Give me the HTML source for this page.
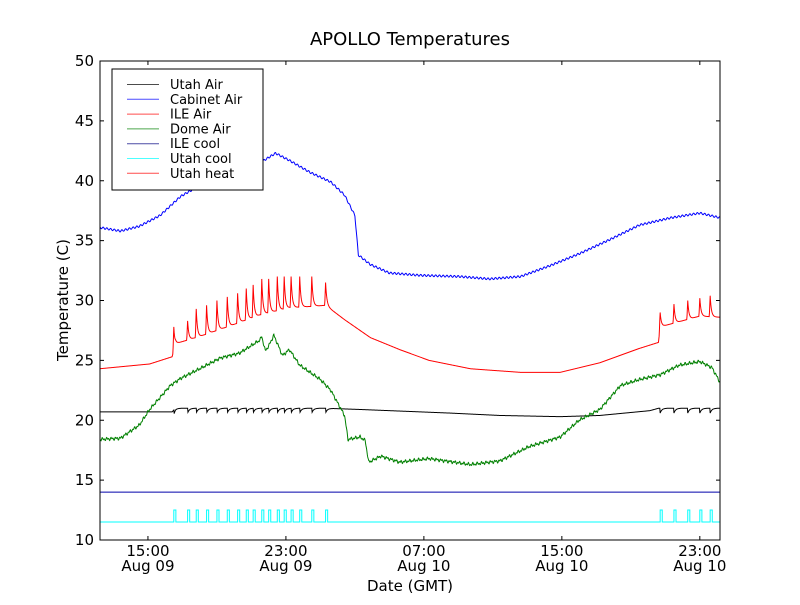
<!DOCTYPE html>
<html><head><meta charset="utf-8"><style>
body{margin:0;background:#fff;font-family:"Liberation Sans","DejaVu Sans",sans-serif}
svg text{font-family:"DejaVu Sans","Liberation Sans",sans-serif}
</style></head><body>
<svg id="chart" width="800" height="600" xmlns="http://www.w3.org/2000/svg">
<rect width="800" height="600" fill="#fff"/>
<text x="410" y="45" font-size="18" text-anchor="middle">APOLLO Temperatures</text>
<g id="plot"></g>
<g id="axes"></g>
<text x="410" y="591" font-size="15" text-anchor="middle">Date (GMT)</text>
<text transform="translate(68,300) rotate(-90)" font-size="15" text-anchor="middle">Temperature (C)</text>
<g id="legend"></g>
</svg>
<script>
// hours since Aug 09 00:00 GMT
const xTickHours=[15,23,31,39,47];
const xTickTimes=["15:00","23:00","07:00","15:00","23:00"];
const xTickDates=["Aug 09","Aug 09","Aug 10","Aug 10","Aug 10"];
const yTicks=[10,15,20,25,30,35,40,45,50];
const cabT=[12.2,13.4,14.5,15.7,16.9,18.0,19.2,20.3,21.5,22.4,23.2,24.4,25.6,26.4,27.0,27.2,27.9,29.0,30.8,33.1,34.8,36.6,38.3,40.0,41.8,43.5,45.3,47.0,48.2];
const cabV=[36.1,35.8,36.2,37.1,38.7,39.6,40.2,40.7,41.5,42.3,41.7,40.7,39.9,38.8,37.1,33.8,33.0,32.3,32.1,32.0,31.8,32.0,32.9,33.9,35.1,36.3,36.9,37.3,36.9];
const ileT=[12.2,15.1,16.4,16.6,18.0,19.8,21.5,23.2,24.4,25.3,26.4,27.9,29.6,31.3,33.7,36.6,38.9,41.2,43.5,44.6,44.7,47.0,48.2];
const ileV=[24.3,24.7,25.3,26.4,27.0,27.9,28.8,29.4,29.5,29.6,28.4,26.9,25.9,25.0,24.3,24.0,24.0,24.8,26.0,26.5,27.8,28.7,28.6];
const cycleT=[16.5,17.3,17.8,18.4,19.0,19.6,20.2,20.7,21.1,21.6,22.0,22.5,22.9,23.3,23.8,24.5,25.3,44.7,45.5,46.3,47.0,47.6];
const ilePeak=[27.8,28.3,29.3,29.6,30.0,30.3,30.6,31.0,31.3,31.8,31.8,32.0,32.0,32.0,32.0,32.0,31.5,29.0,29.7,30.0,30.2,30.4];
const utahT=[12.2,16.4,16.6,25.3,27.3,32.5,35.4,38.9,41.2,44.1,44.6,48.2];
const utahV=[20.7,20.7,21.0,21.0,20.9,20.6,20.4,20.3,20.4,20.8,21.0,21.0];
const domeT=[12.2,13.4,14.5,15.1,16.3,16.9,18.0,19.2,20.3,21.5,21.6,21.8,22.0,22.3,22.8,23.2,23.8,25.0,25.6,26.4,26.6,27.3,27.6,27.8,28.5,29.6,31.3,33.7,35.4,37.1,38.9,40.0,41.2,42.4,43.5,44.7,45.8,47.0,47.7,48.2];
const domeV=[18.4,18.5,19.6,20.9,22.9,23.5,24.3,25.2,25.6,26.7,27.0,25.8,26.2,27.1,25.4,25.9,24.6,23.4,22.5,20.4,18.4,18.6,18.3,16.5,17.0,16.5,16.8,16.3,16.6,17.8,18.6,20.0,20.9,22.9,23.4,23.8,24.6,24.9,24.4,23.1];
const ileCool=[14.0];
const utahCoolBase=[11.5];
const utahCoolOn=[12.5];
const utahHeat=[10.0];

const L=100,R=720,T=61,B=540,h0=12.22,h1=48.17,v0=10,v1=50;
const X=h=>L+(h-h0)/(h1-h0)*(R-L);
const Y=v=>B-(v-v0)/(v1-v0)*(B-T);
const NS="http://www.w3.org/2000/svg";
function mk(tag,attrs,parent){const e=document.createElementNS(NS,tag);for(const k in attrs)e.setAttribute(k,attrs[k]);parent.appendChild(e);return e;}
function interp(ts,vs,t){if(t<=ts[0])return vs[0];for(let i=1;i<ts.length;i++){if(t<=ts[i]){const f=(t-ts[i-1])/(ts[i]-ts[i-1]);return vs[i-1]+f*(vs[i]-vs[i-1]);}}return vs[vs.length-1];}
const plot=document.getElementById('plot');
function line(pts,color,name){const d=pts.map((p,i)=>(i?'L':'M')+X(p[0]).toFixed(2)+','+Y(p[1]).toFixed(2)).join('');const e=mk('path',{d:d,fill:'none',stroke:color,'stroke-width':1,'clip-path':'url(#clip)'},plot);

}
mk('clipPath',{id:'clip'},mk('defs',{},document.getElementById('chart'))).appendChild(Object.assign(document.createElementNS(NS,'rect'),{}));
document.querySelector('#clip rect').setAttribute('x',L);document.querySelector('#clip rect').setAttribute('y',T);document.querySelector('#clip rect').setAttribute('width',R-L);document.querySelector('#clip rect').setAttribute('height',B-T);
const step=0.02;
// Utah heat
line([[h0,utahHeat[0]],[h1,utahHeat[0]]],'#ff0000','series-utah-heat');
// ILE cool
line([[h0,ileCool[0]],[h1,ileCool[0]]],'#0000aa','series-ile-cool');
// Utah cool pulses
{const p=[[h0,utahCoolBase[0]]];cycleT.forEach(t=>{p.push([t,utahCoolBase[0]],[t,utahCoolOn[0]],[t+0.12,utahCoolOn[0]],[t+0.12,utahCoolBase[0]]);});p.push([h1,utahCoolBase[0]]);line(p,'#00ffff','series-utah-cool');}
// Utah air
{const p=[];for(let t=h0;t<=h1;t+=step){let v=interp(utahT,utahV,t);cycleT.forEach(c=>{const d=t-c;if(d>=0&&d<0.4)v-=0.4*Math.exp(-d/0.1);});p.push([t,v]);}line(p,'#000000','series-utah-air');}
// Dome air
{const p=[];for(let t=h0;t<=h1;t+=step){p.push([t,interp(domeT,domeV,t)+0.15*Math.sin(t*37)*Math.cos(t*13)]);}line(p,'#008000','series-dome-air');}
// ILE air
{const p=[];for(let t=h0;t<=h1;t+=step){const b=interp(ileT,ileV,t);let v=b;cycleT.forEach((c,i)=>{const d=t-c;if(d>=0&&d<0.6)v=Math.max(v,b+(ilePeak[i]-b)*Math.exp(-d/0.07));if(d<0&&d>-0.05)v=Math.max(v,b+(ilePeak[i]-b)*(1+d/0.05));});p.push([t,v]);}line(p,'#ff0000','series-ile-air');}
// Cabinet air
{const p=[];for(let t=h0;t<=h1;t+=step){p.push([t,interp(cabT,cabV,t)+0.08*Math.sin(t*29)]);}line(p,'#0000ff','series-cabinet-air');}
// axes
const ax=document.getElementById('axes');
mk('rect',{x:L,y:T,width:R-L,height:B-T,fill:'none',stroke:'#000','stroke-width':1},ax);
yTicks.forEach(v=>{const y=Y(v);mk('line',{x1:L,x2:L+4,y1:y,y2:y,stroke:'#000'},ax);mk('line',{x1:R-4,x2:R,y1:y,y2:y,stroke:'#000'},ax);
const t=mk('text',{x:L-6,y:y+5,'font-size':15,'text-anchor':'end'},ax);t.textContent=v;

});
xTickHours.forEach((h,i)=>{const x=X(h);mk('line',{x1:x,x2:x,y1:B-4,y2:B,stroke:'#000'},ax);mk('line',{x1:x,x2:x,y1:T,y2:T+4,stroke:'#000'},ax);
const t=mk('text',{x:x,y:556,'font-size':15,'text-anchor':'middle'},ax);t.textContent=xTickTimes[i];


const d=mk('text',{x:x,y:571,'font-size':15,'text-anchor':'middle'},ax);d.textContent=xTickDates[i];

});
// legend
const lg=document.getElementById('legend');
const names=["Utah Air","Cabinet Air","ILE Air","Dome Air","ILE cool","Utah cool","Utah heat"];
const cols=["#000000","#0000ff","#ff0000","#008000","#000080","#00ffff","#ff0000"];
mk('rect',{x:112,y:69,width:151,height:121,fill:'#fff',stroke:'#000','stroke-width':1},lg);
names.forEach((n,i)=>{const y=84.5+i*14.8;mk('line',{x1:127,x2:159,y1:y,y2:y,stroke:cols[i],'stroke-opacity':0.7,'stroke-width':1},lg);
const t=mk('text',{x:170,y:y+4.5,'font-size':13},lg);t.textContent=n;

});
</script>
</body></html>
